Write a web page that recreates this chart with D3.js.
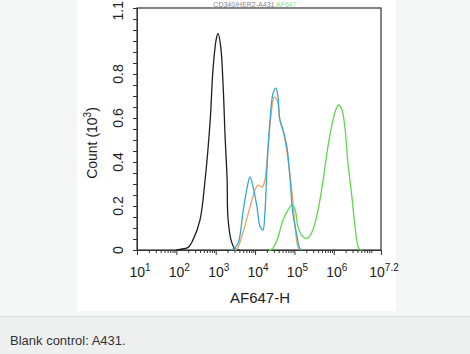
<!DOCTYPE html>
<html>
<head>
<meta charset="utf-8">
<script src="https://cdn.jsdelivr.net/npm/d3@7"></script>
<style>
html,body{margin:0;padding:0;background:#f5f6f6;}
svg{display:block;font-family:"Liberation Sans",Arial,sans-serif;}
</style>
</head>
<body>
<svg id="c" width="470" height="354"></svg>
<script>
// ---- data (x in log10 units, y in count x10^3) ----
const xTickValues = [1, 2, 3, 4, 5, 6, 7.2];
const xTickLabels = ["1", "2", "3", "4", "5", "6", "7.2"];
const yTickValues = [0, 0.2, 0.4, 0.6, 0.8, 1.1];
const yTickLabels = ["0", "0.2", "0.4", "0.6", "0.8", "1.1"];

const blackCurve = [[2.0,0],[2.09,0.003],[2.3,0.012],[2.42,0.045],[2.6,0.136],[2.73,0.318],[2.86,0.59],[2.93,0.818],[3.01,0.955],[3.06,0.985],[3.13,0.92],[3.19,0.74],[3.24,0.51],[3.29,0.32],[3.31,0.15],[3.39,0.045],[3.49,0.005],[3.6,0]];
const blueCurve = [[3.38,0],[3.44,0.004],[3.57,0.032],[3.69,0.168],[3.80,0.286],[3.87,0.332],[3.95,0.286],[4.05,0.195],[4.13,0.105],[4.20,0.091],[4.25,0.168],[4.30,0.364],[4.38,0.591],[4.46,0.714],[4.53,0.736],[4.58,0.70],[4.63,0.591],[4.71,0.545],[4.81,0.468],[4.89,0.318],[4.96,0.168],[5.07,0.059],[5.14,0.005],[5.2,0]];
const orangeCurve = [[3.48,0],[3.54,0.004],[3.69,0.077],[3.87,0.195],[4.00,0.273],[4.07,0.295],[4.18,0.286],[4.25,0.318],[4.33,0.468],[4.43,0.65],[4.48,0.695],[4.56,0.682],[4.63,0.591],[4.71,0.545],[4.84,0.409],[4.94,0.259],[5.02,0.105],[5.09,0.014],[5.15,0]];
const greenCurve = [[4.35,0],[4.43,0.004],[4.56,0.045],[4.71,0.136],[4.84,0.182],[4.94,0.205],[5.02,0.182],[5.09,0.105],[5.22,0.059],[5.35,0.055],[5.47,0.091],[5.60,0.182],[5.73,0.318],[5.85,0.468],[5.98,0.591],[6.08,0.65],[6.13,0.659],[6.21,0.636],[6.29,0.545],[6.36,0.395],[6.47,0.227],[6.54,0.105],[6.62,0.014],[6.67,0.002],[6.72,0]];

const series = [
  {name:"blank", data: blackCurve, color:"#1e1e1e"},
  {name:"green", data: greenCurve, color:"#62d64e"},
  {name:"orange", data: orangeCurve, color:"#eea463"},
  {name:"blue", data: blueCurve, color:"#35a7d6"}
];

// ---- layout ----
const svg = d3.select("#c");
svg.append("rect").attr("x",0).attr("y",0).attr("width",470).attr("height",316).attr("fill","#f5f6f6");
svg.append("rect").attr("x",77).attr("y",0).attr("width",319).attr("height",311).attr("fill","#ffffff");
svg.append("rect").attr("x",0).attr("y",316).attr("width",470).attr("height",38).attr("fill","#eeefef");
svg.append("line").attr("x1",0).attr("x2",470).attr("y1",316.5).attr("y2",316.5).attr("stroke","#dcdede");
svg.append("text").attr("x",10).attr("y",345).attr("font-size",13).attr("fill","#333")
  .text("Blank control: A431.");

const L = 137, R = 381, T = 8, B = 250;
const x = d3.scaleLinear().domain([1, 7.2]).range([L, R]);
const y = d3.scaleLinear().domain([0, 1.1]).range([B, T]);

// (mostly hidden) title above the frame
const title = svg.append("text").attr("x",255).attr("y",6.5).attr("text-anchor","middle")
  .attr("font-size",7).attr("fill","#888");
title.append("tspan").text("CD340/HER2-A431 ");
title.append("tspan").attr("fill","#8fe07f").text("AF647");

// frame
svg.append("rect").attr("x",L).attr("y",T).attr("width",R-L).attr("height",B-T)
  .attr("fill","none").attr("stroke","#333").attr("stroke-width",1.2);

// x minor ticks
const xMinor = [];
for (let d = 1; d < 7.2; d++) for (let k = 2; k <= 9; k++) { const v = d + Math.log10(k); if (v < 7.2) xMinor.push(v); }
const gxMinor = svg.append("g").attr("transform",`translate(0,${B})`)
  .call(d3.axisBottom(x).tickValues(xMinor).tickSize(3).tickFormat(""));
gxMinor.select(".domain").remove();
gxMinor.selectAll("line").attr("stroke","#333");

const gx = svg.append("g").attr("transform",`translate(0,${B})`)
  .call(d3.axisBottom(x).tickValues(xTickValues).tickSize(5).tickFormat(""));
gx.select(".domain").attr("stroke","#333");
gx.selectAll("line").attr("stroke","#333");
xTickValues.forEach((v,i) => {
  const t = svg.append("text").attr("x", x(v) + 3).attr("y", 277).attr("text-anchor","middle")
    .attr("font-size",14).attr("fill","#222");
  t.append("tspan").text("10");
  t.append("tspan").attr("dy",-6).attr("font-size",10).text(xTickLabels[i]);
});
svg.append("text").attr("x",(L+R)/2 + 1).attr("y",303).attr("text-anchor","middle")
  .attr("font-size",15).attr("fill","#222").text("AF647-H");

// y ticks
const yMinor = d3.range(0, 1.1001, 0.05);
const gyMinor = svg.append("g").attr("transform",`translate(${L},0)`)
  .call(d3.axisLeft(y).tickValues(yMinor).tickSize(4).tickFormat(""));
gyMinor.select(".domain").attr("stroke","#333");
gyMinor.selectAll("line").attr("stroke","#333");
yTickValues.forEach((v,i) => {
  const top = (v === 1.1);
  svg.append("text").attr("transform",`translate(123,${top ? 1 : y(v)}) rotate(-90)`)
    .attr("text-anchor", top ? "end" : "middle").attr("font-size",14).attr("fill","#222").text(yTickLabels[i]);
});
const yl = svg.append("text").attr("transform",`translate(97,143) rotate(-90)`)
  .attr("text-anchor","middle").attr("font-size",14).attr("fill","#222");
yl.append("tspan").text("Count (10");
yl.append("tspan").attr("dy",-6).attr("font-size",10).text("3");
yl.append("tspan").attr("dy",6).text(")");

// curves
const lineGen = d3.line().x(d => x(d[0])).y(d => y(d[1])).curve(d3.curveCatmullRom.alpha(0.5));
svg.append("g").selectAll("path").data(series).join("path")
  .attr("d", s => lineGen(s.data)).attr("fill","none")
  .attr("stroke", s => s.color).attr("stroke-width",1.3).attr("stroke-linejoin","round");
</script>
</body>
</html>
